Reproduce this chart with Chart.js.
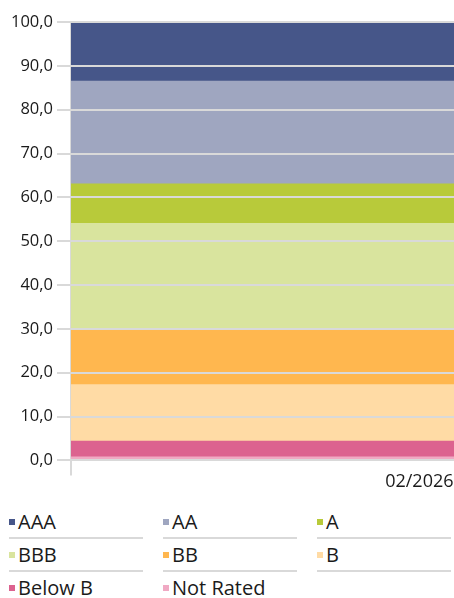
<!DOCTYPE html>
<html>
<head>
<meta charset="utf-8">
<script src="https://cdn.jsdelivr.net/npm/chart.js@4/dist/chart.umd.min.js"></script>
<style>
  html, body { margin: 0; padding: 0; background: #fff; width: 454px; height: 598px; overflow: hidden; font-family: "Open Sans", sans-serif; }
  #wrap { position: absolute; left: 0; top: 0; width: 454px; height: 495px; }
  #legend { position: absolute; left: 9px; top: 506px; width: 445px; display: grid; grid-template-columns: 134px 134px 134px; column-gap: 20px; }
  .item { height: 31px; line-height: 31px; font-size: 20px; color: #1a1a1a; white-space: nowrap; display: flex; align-items: center; }
  .item.sep { border-bottom: 2px solid #d9d9d9; }
  .mk { width: 6px; height: 6px; margin-right: 3px; flex: none; }
</style>
</head>
<body>
<div id="wrap"><canvas id="c"></canvas></div>
<div id="legend"></div>
<script>
const categories = ["02/2026"];
const ratings = ["AAA", "AA", "A", "BBB", "BB", "B", "Below B", "Not Rated"];
const values = [13.5, 23.4, 9.0, 24.0, 12.8, 12.9, 3.6, 0.8];
const colors = ["#465689", "#9fa6c0", "#b8ca3a", "#d9e49e", "#ffb74f", "#ffdba5", "#dc628f", "#f0a9c3"];
const yTicks = [0, 10, 20, 30, 40, 50, 60, 70, 80, 90, 100];

// stack bottom-up: Not Rated first
const datasets = ratings.map((r, i) => ({
  label: r,
  data: [values[i]],
  backgroundColor: colors[i],
  borderWidth: 0,
  barPercentage: 1.0,
  categoryPercentage: 1.0
})).reverse();

new Chart(document.getElementById('c'), {
  type: 'bar',
  data: { labels: categories, datasets },
  options: {
    responsive: true,
    maintainAspectRatio: false,
    animation: false,
    layout: { padding: { left: 7, right: 0, top: 22, bottom: 6 } },
    plugins: { legend: { display: false }, tooltip: { enabled: false } },
    scales: {
      x: {
        stacked: true,
        offset: true,
        grid: {
          display: true, drawOnChartArea: true, drawTicks: true, tickLength: 15, lineWidth: 2,
          color: (ctx) => ctx.index === 0 ? '#d9d9d9' : 'rgba(0,0,0,0)'
        },
        border: { display: false },
        ticks: { align: 'end', labelOffset: 191, padding: -4, color: '#1a1a1a', font: { family: 'Open Sans', size: 18 } }
      },
      y: {
        stacked: true,
        min: 0,
        max: 100,
        afterBuildTicks: (scale) => { scale.ticks = yTicks.map(v => ({ value: v })); },
        grid: { color: '#d9d9d9', lineWidth: 2, tickLength: 14, z: 1 },
        border: { display: false },
        ticks: {
          padding: 4,
          color: '#1a1a1a',
          font: { family: 'Open Sans', size: 16.5 },
          callback: (v) => Number(v).toFixed(1).replace('.', ',')
        }
      }
    }
  }
});

const leg = document.getElementById('legend');
ratings.forEach((r, i) => {
  const d = document.createElement('div');
  d.className = 'item' + (i < 6 ? ' sep' : '');
  const m = document.createElement('span');
  m.className = 'mk';
  m.style.background = colors[i];
  d.appendChild(m);
  d.appendChild(document.createTextNode(r));
  leg.appendChild(d);
});
</script>
</body>
</html>
